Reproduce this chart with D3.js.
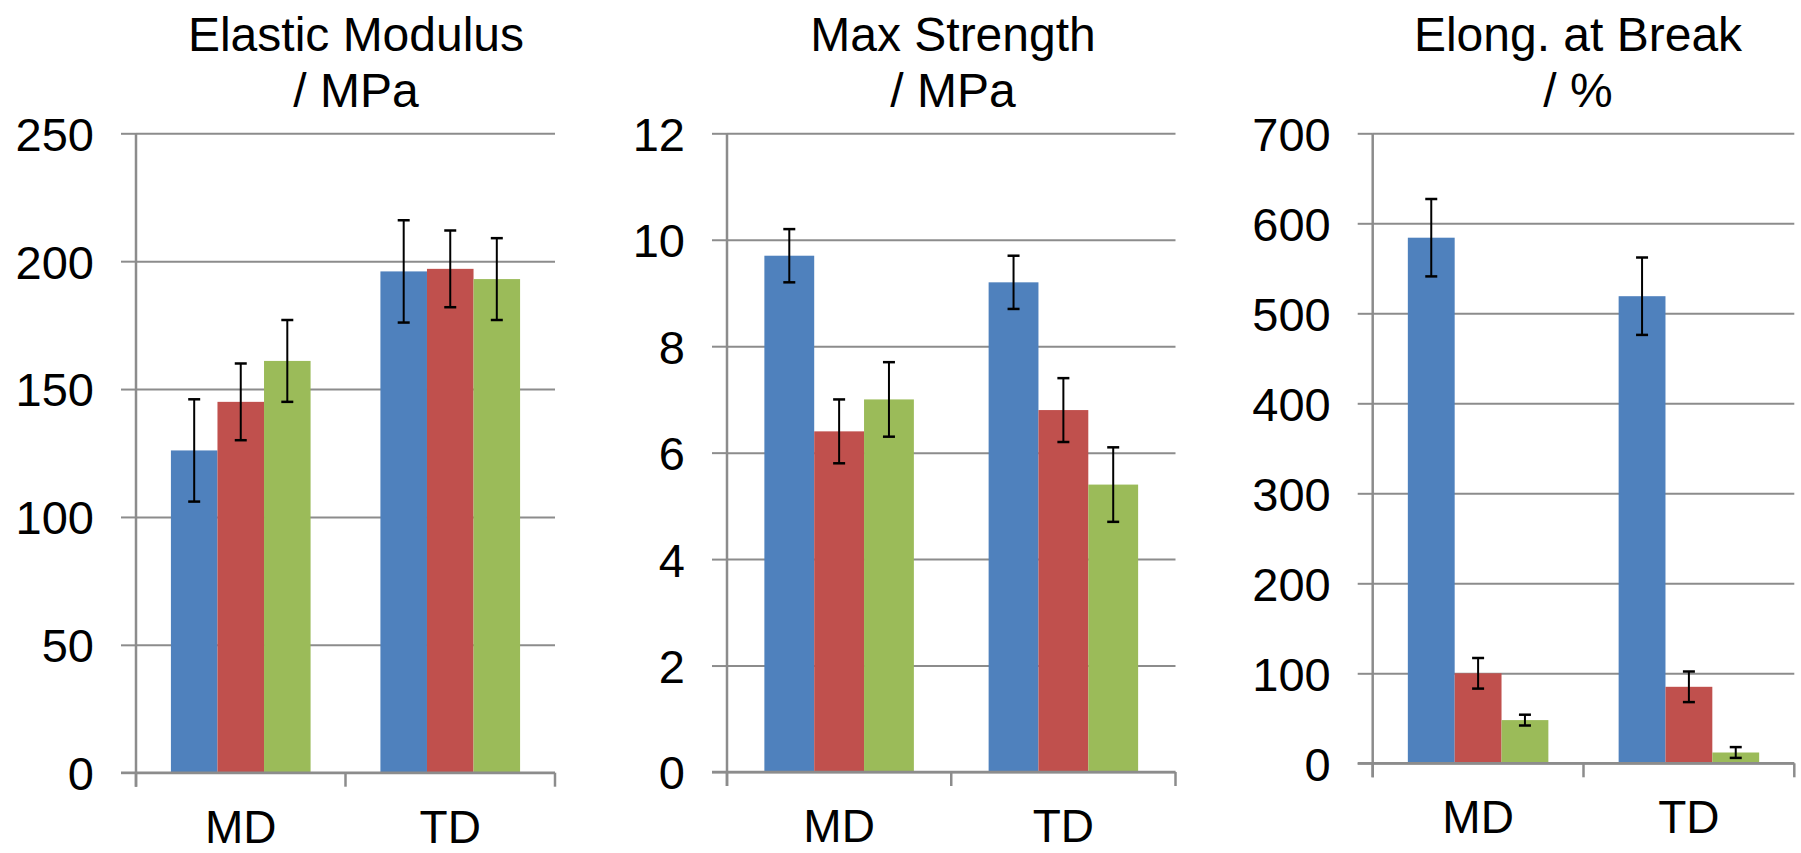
<!DOCTYPE html>
<html>
<head>
<meta charset="utf-8">
<script src="https://cdn.jsdelivr.net/npm/d3@7"></script>
<style>
  html, body { margin: 0; padding: 0; background: #ffffff; }
  svg { display: block; font-family: "Liberation Sans", Arial, sans-serif; }
</style>
</head>
<body>
<svg id="chart" width="1801" height="853"></svg>
<script>
// ---------------- DATA ----------------
const categories = ["MD", "TD"];
const seriesNames = ["Series 1", "Series 2", "Series 3"];
const seriesColors = ["#4F81BD", "#C0504D", "#9BBB59"];

// values indexed [category][series]
const modulusValues = [[126, 145, 161], [196, 197, 193]];
const modulusErrors = [[20, 15, 16], [20, 15, 16]];
const modulusTicks = [0, 50, 100, 150, 200, 250];
const modulusTitle = ["Elastic Modulus", "/ MPa"];

const strengthValues = [[9.7, 6.4, 7.0], [9.2, 6.8, 5.4]];
const strengthErrors = [[0.5, 0.6, 0.7], [0.5, 0.6, 0.7]];
const strengthTicks = [0, 2, 4, 6, 8, 10, 12];
const strengthTitle = ["Max Strength", "/ MPa"];

const elongValues = [[584, 100, 48], [519, 85, 12]];
const elongErrors = [[43, 17, 6], [43, 17, 6]];
const elongTicks = [0, 100, 200, 300, 400, 500, 600, 700];
const elongTitle = ["Elong. at Break", "/ %"];

// ---------------- LAYOUT ----------------
const panels = [
  { values: modulusValues, errors: modulusErrors, ticks: modulusTicks, title: modulusTitle,
    left: 136, right: 555, top: 133.3, bottom: 772.7, titleX: 356 },
  { values: strengthValues, errors: strengthErrors, ticks: strengthTicks, title: strengthTitle,
    left: 727, right: 1175.5, top: 133.3, bottom: 772, titleX: 953 },
  { values: elongValues, errors: elongErrors, ticks: elongTicks, title: elongTitle,
    left: 1372.7, right: 1794.3, top: 133.3, bottom: 763.3, titleX: 1578 }
];

const gridColor = "#8c8c8c";
const svg = d3.select("#chart");

panels.forEach(p => {
  const w = p.right - p.left;
  const h = p.bottom - p.top;
  const g = svg.append("g").attr("transform", `translate(${p.left},${p.top})`);

  const y = d3.scaleLinear()
    .domain([p.ticks[0], p.ticks[p.ticks.length - 1]])
    .range([h, 0]);
  const x = d3.scaleBand().domain(categories).range([0, w]).paddingInner(0).paddingOuter(0);
  const bw = x.bandwidth();
  const x1 = d3.scaleBand().domain(seriesNames).range([bw / 6, bw * 5 / 6]).padding(0);

  // gridlines (extend across plot) using axis
  const grid = g.append("g").call(
    d3.axisLeft(y).tickValues(p.ticks).tickSize(-w).tickFormat("")
  );
  grid.select(".domain").remove();
  grid.selectAll("line").attr("stroke", gridColor).attr("stroke-width", 2);

  // outward ticks + labels
  const yAxis = g.append("g").call(
    d3.axisLeft(y).tickValues(p.ticks).tickSizeInner(15).tickSizeOuter(0).tickPadding(27)
  );
  yAxis.select(".domain").remove();
  yAxis.selectAll("line").attr("stroke", gridColor).attr("stroke-width", 2);
  yAxis.selectAll("text")
    .attr("dy", "0.36em")
    .attr("fill", "#000")
    .style("font-size", "47px")
    .style("font-family", "'Liberation Sans', Arial, sans-serif");

  // bars
  const groups = g.append("g").selectAll("g")
    .data(categories)
    .join("g")
    .attr("transform", d => `translate(${x(d)},0)`);

  groups.selectAll("rect")
    .data((c, ci) => seriesNames.map((s, si) => ({ s, si, v: p.values[ci][si], e: p.errors[ci][si] })))
    .join("rect")
    .attr("x", d => x1(d.s))
    .attr("width", x1.bandwidth())
    .attr("y", d => y(d.v))
    .attr("height", d => y(0) - y(d.v))
    .attr("fill", d => seriesColors[d.si]);

  // bottom axis line
  g.append("line")
    .attr("x1", -15).attr("x2", w)
    .attr("y1", h).attr("y2", h)
    .attr("stroke", gridColor).attr("stroke-width", 2.5);

  // left axis line
  g.append("line")
    .attr("x1", 0).attr("x2", 0)
    .attr("y1", 0).attr("y2", h + 14)
    .attr("stroke", gridColor).attr("stroke-width", 2.5);

  // category boundary ticks
  const bounds = categories.map(c => x(c)).concat([w]);
  g.append("g").selectAll("line")
    .data(bounds)
    .join("line")
    .attr("x1", d => d).attr("x2", d => d)
    .attr("y1", h).attr("y2", h + 14)
    .attr("stroke", gridColor).attr("stroke-width", 2.5);

  // category labels via axis
  const xAxis = g.append("g").attr("transform", `translate(0,${h})`).call(
    d3.axisBottom(x).tickSize(0).tickPadding(0)
  );
  xAxis.select(".domain").remove();
  xAxis.selectAll("text")
    .attr("y", 70).attr("dy", 0)
    .attr("fill", "#000")
    .style("font-size", "46px")
    .style("font-family", "'Liberation Sans', Arial, sans-serif");

  // error bars
  const eb = groups.selectAll("g.err")
    .data((c, ci) => seriesNames.map((s, si) => ({ s, si, v: p.values[ci][si], e: p.errors[ci][si] })))
    .join("g").attr("class", "err");
  const cx = d => x1(d.s) + x1.bandwidth() / 2;
  eb.append("line")
    .attr("x1", cx).attr("x2", cx)
    .attr("y1", d => y(d.v + d.e)).attr("y2", d => y(d.v - d.e))
    .attr("stroke", "#000").attr("stroke-width", 2);
  eb.append("line")
    .attr("x1", d => cx(d) - 6).attr("x2", d => cx(d) + 6)
    .attr("y1", d => y(d.v + d.e)).attr("y2", d => y(d.v + d.e))
    .attr("stroke", "#000").attr("stroke-width", 2.5);
  eb.append("line")
    .attr("x1", d => cx(d) - 6).attr("x2", d => cx(d) + 6)
    .attr("y1", d => y(d.v - d.e)).attr("y2", d => y(d.v - d.e))
    .attr("stroke", "#000").attr("stroke-width", 2.5);

  // title
  const t = svg.append("text")
    .attr("x", p.titleX)
    .attr("text-anchor", "middle")
    .attr("fill", "#000")
    .style("font-size", "48px");
  t.append("tspan").attr("x", p.titleX).attr("y", 51).text(p.title[0]);
  t.append("tspan").attr("x", p.titleX).attr("y", 107).text(p.title[1]);
});
</script>
</body>
</html>
